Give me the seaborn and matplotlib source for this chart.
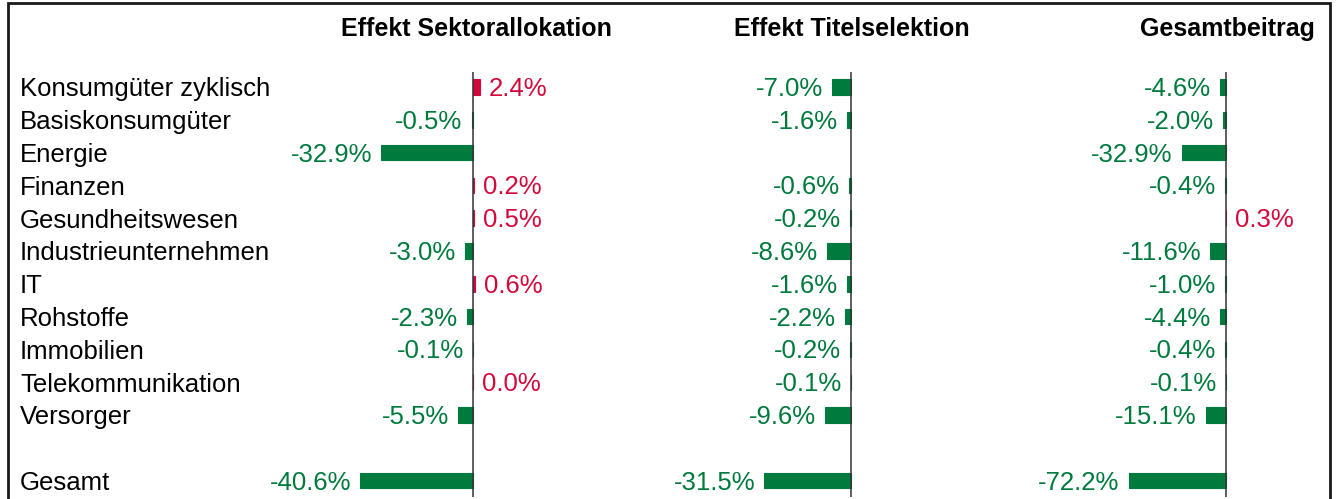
import numpy as np
import pandas as pd
import seaborn as sns
import matplotlib.pyplot as plt
from matplotlib.patches import Rectangle

categories = ["Konsumgüter zyklisch", "Basiskonsumgüter", "Energie", "Finanzen",
              "Gesundheitswesen", "Industrieunternehmen", "IT", "Rohstoffe",
              "Immobilien", "Telekommunikation", "Versorger", "Gesamt"]
sektor = [2.4, -0.5, -32.9, 0.2, 0.5, -3.0, 0.6, -2.3, -0.1, 0.0, -5.5, -40.6]
titel = [-7.0, -1.6, np.nan, -0.6, -0.2, -8.6, -1.6, -2.2, -0.2, -0.1, -9.6, -31.5]
gesamt = [-4.6, -2.0, -32.9, -0.4, 0.3, -11.6, -1.0, -4.4, -0.4, -0.1, -15.1, -72.2]
titles = ["Effekt Sektorallokation", "Effekt Titelselektion", "Gesamtbeitrag"]

GREEN = "#007A3D"
RED = "#D20A3C"
FS = 18.5

sns.set_theme(style="white")
plt.rcParams['font.family'] = ['Liberation Sans', 'DejaVu Sans']

W, H = 1336, 499
fig = plt.figure(figsize=(W / 100, H / 100), dpi=100)

def px_axes(left, right, top, bottom):
    return fig.add_axes([left / W, 1 - bottom / H, (right - left) / W, (bottom - top) / H])

# spacer row between Versorger and Gesamt
order = categories[:-1] + [" "] + [categories[-1]]

# (left px, right px, xlim)
layout = [
    (280, 612, (-69.4, 50.0)),
    (650, 970, (-73.1, 43.3)),
    (1000, 1315, (-167.4, 65.9)),
]

for k, (vals, title, (left, right, xlim)) in enumerate(zip([sektor, titel, gesamt], titles, layout)):
    ax = px_axes(left, right, 72, 497)
    df = pd.DataFrame({'cat': categories, 'val': vals})
    df['sign'] = np.where(df.val >= 0, 'pos', 'neg')
    sns.barplot(df, x='val', y='cat', hue='sign', order=order, hue_order=['neg', 'pos'],
                palette={'neg': GREEN, 'pos': RED}, dodge=False, width=0.48,
                saturation=1, errorbar=None, legend=False, orient='h', ax=ax)
    for bar in ax.patches:
        bar.set_edgecolor(bar.get_facecolor())
        bar.set_linewidth(0.8)
    ax.axvline(0, color='#333333', lw=1.1, zorder=3)
    ax.set_xlim(*xlim)
    ax.set_ylim(12.5, -0.457)
    ax.set_xlabel('')
    ax.set_ylabel('')
    ax.set_xticks([])
    for s in ax.spines.values():
        s.set_visible(False)
    ax.set_title(title, loc='right', fontweight='bold', fontsize=18, pad=26, color='black')

    for cat, v in zip(categories, vals):
        if np.isnan(v):
            continue
        y = order.index(cat)
        col = RED if v >= 0 else GREEN
        ax.annotate(f"{v:.1f}%", xy=(v, y), xytext=(-9 if v < 0 else 9, -2),
                    textcoords='offset pixels', ha='right' if v < 0 else 'left',
                    va='center', color=col, fontsize=FS)

    if k == 0:
        ax.tick_params(axis='y', length=0, pad=(left - 20) * 0.72, labelsize=FS, labelcolor='black')
        for lbl in ax.get_yticklabels():
            lbl.set_ha('left')
    else:
        ax.tick_params(axis='y', left=False, labelleft=False)

fig.patches.append(Rectangle((8 / W, -0.1), (1330 - 8) / W, 1.1 - 3 / H, transform=fig.transFigure,
                             fill=False, lw=2, ec='#1a1a1a'))

fig.savefig("out.png", dpi=100)
